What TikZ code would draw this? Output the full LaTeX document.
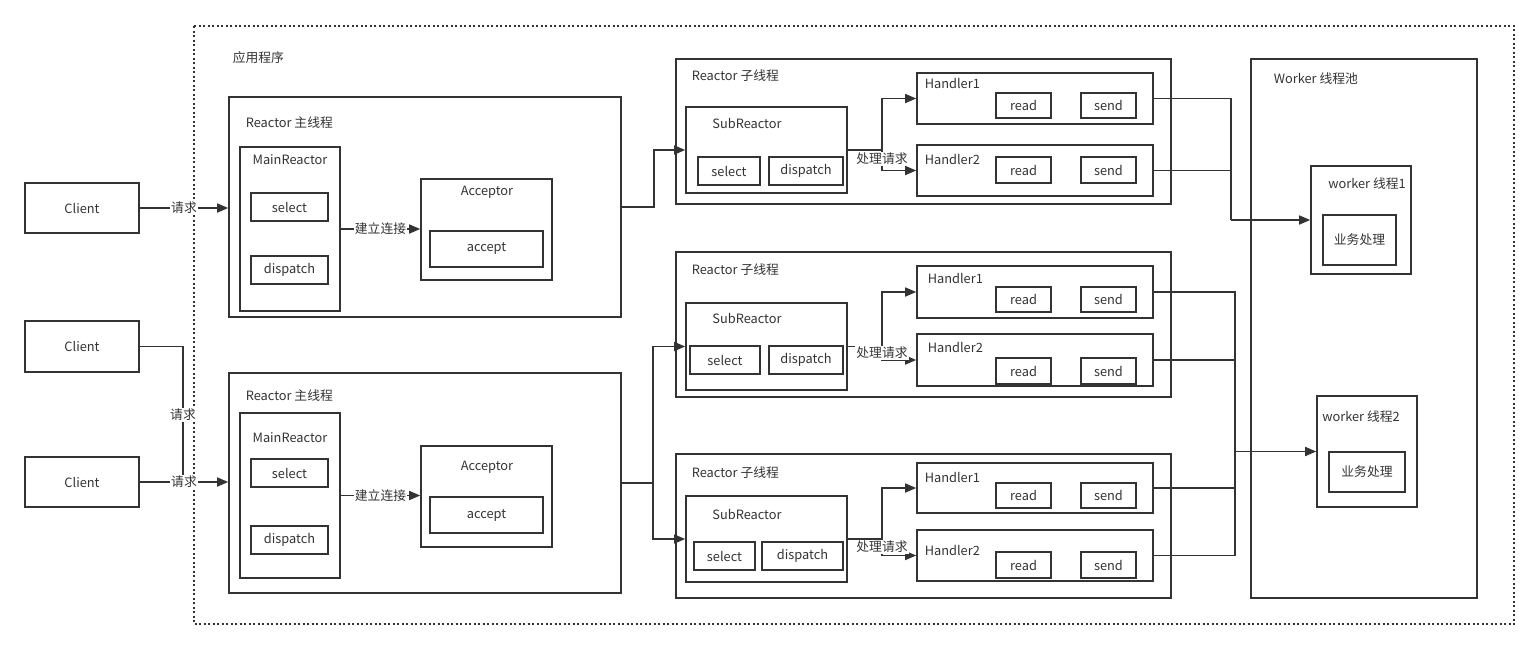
\documentclass[tikz,border=0pt]{standalone}
\usepackage{fontspec}
\setmainfont{Noto Sans CJK SC}
\usetikzlibrary{arrows.meta}
\definecolor{linegray}{HTML}{333333}

\begin{document}
\begin{tikzpicture}[x=1pt, y=-1pt, color=linegray, line width=1.6pt,
    every node/.style={font=\fontsize{12.8}{15}\selectfont},
    box/.style={draw, inner sep=0pt},
    lbl/.style={inner sep=1pt},
    tag/.style={inner sep=1pt, fill=white},
    arr/.style={-{Triangle[length=11pt,width=9pt]}}]
    \useasboundingbox (0,0) rectangle (1539,649);
    \draw[line width=1.7pt, dash pattern=on 2pt off 2.5pt] (194,26) rectangle (1514,624);
    \node[lbl, anchor=west] (app) at (231,58) {应用程序};

    \node[box, minimum width=114, minimum height=50] (client1) at (82,208) {Client};
    \node[box, minimum width=114, minimum height=51] (client2) at (82,346.5) {Client};
    \node[box, minimum width=114, minimum height=50] (client3) at (82,482) {Client};

    \node[box, minimum width=392, minimum height=220] (main1) at (425,207) {};
    \node[lbl, anchor=west] (main1lbl) at (244,123) {Reactor 主线程};
    \node[box, minimum width=100, minimum height=164] (mr1) at (290,229) {};
    \node[lbl] (mr1lbl) at (290,160) {MainReactor};
    \node[box, minimum width=77, minimum height=28] (sel1) at (289.5,207) {select};
    \node[box, minimum width=77, minimum height=28] (dis1) at (289.5,270) {dispatch};
    \node[box, minimum width=131, minimum height=101] (acc1) at (486.5,229.5) {};
    \node[lbl] (acc1lbl) at (487,192) {Acceptor};
    \node[box, minimum width=113, minimum height=36] (accept1) at (486.5,249) {accept};

    \node[box, minimum width=392, minimum height=220] (main2) at (425,483) {};
    \node[lbl, anchor=west] (main2lbl) at (244,396) {Reactor 主线程};
    \node[box, minimum width=100, minimum height=165] (mr2) at (290,495.5) {};
    \node[lbl] (mr2lbl) at (290,438) {MainReactor};
    \node[box, minimum width=77, minimum height=28] (sel2) at (289.5,473) {select};
    \node[box, minimum width=77, minimum height=28] (dis2) at (289.5,540) {dispatch};
    \node[box, minimum width=131, minimum height=101] (acc2) at (486.5,496.5) {};
    \node[lbl] (acc2lbl) at (487,467) {Acceptor};
    \node[box, minimum width=113, minimum height=36] (accept2) at (486.5,515) {accept};

    \node[box, minimum width=495, minimum height=145] (sub1) at (923.5,131.5) {};
    \node[lbl, anchor=west] (sub1lbl) at (690,76) {Reactor 子线程};
    \node[box, minimum width=161, minimum height=86] (sr1) at (766.5,150) {};
    \node[lbl] (sr1lbl) at (747,123) {SubReactor};
    \node[box, minimum width=62, minimum height=28] (ssel1) at (729,171) {select};
    \node[box, minimum width=74, minimum height=28] (sdis1) at (806,171) {dispatch};
    \node[box, minimum width=236, minimum height=51] (h11) at (1035,98.5) {};
    \node[lbl, anchor=west] (h11lbl) at (923,83) {Handler1};
    \node[box, minimum width=55, minimum height=25] (r11) at (1023.5,105.5) {read};
    \node[box, minimum width=55, minimum height=25] (s11) at (1108.5,105.5) {send};
    \node[box, minimum width=236, minimum height=51] (h12) at (1035,170.5) {};
    \node[lbl, anchor=west] (h12lbl) at (923,159) {Handler2};
    \node[box, minimum width=55, minimum height=26] (r12) at (1023.5,170) {read};
    \node[box, minimum width=55, minimum height=26] (s12) at (1108.5,170) {send};

    \node[box, minimum width=495, minimum height=145] (sub2) at (923.5,324.5) {};
    \node[lbl, anchor=west] (sub2lbl) at (690,270) {Reactor 子线程};
    \node[box, minimum width=161, minimum height=87] (sr2) at (766.5,346.5) {};
    \node[lbl] (sr2lbl) at (747,318) {SubReactor};
    \node[box, minimum width=70, minimum height=28] (ssel2) at (725,360) {select};
    \node[box, minimum width=74, minimum height=28] (sdis2) at (806,360) {dispatch};
    \node[box, minimum width=236, minimum height=52] (h21) at (1035,292) {};
    \node[lbl, anchor=west] (h21lbl) at (926,278) {Handler1};
    \node[box, minimum width=55, minimum height=25] (r21) at (1023.5,299.5) {read};
    \node[box, minimum width=55, minimum height=25] (s21) at (1108.5,299.5) {send};
    \node[box, minimum width=236, minimum height=52] (h22) at (1035,360) {};
    \node[lbl, anchor=west] (h22lbl) at (926,347) {Handler2};
    \node[box, minimum width=55, minimum height=26] (r22) at (1023.5,371) {read};
    \node[box, minimum width=55, minimum height=26] (s22) at (1108.5,371) {send};

    \node[box, minimum width=495, minimum height=144] (sub3) at (923.5,526) {};
    \node[lbl, anchor=west] (sub3lbl) at (690,473) {Reactor 子线程};
    \node[box, minimum width=161, minimum height=86] (sr3) at (766.5,539) {};
    \node[lbl] (sr3lbl) at (747,514) {SubReactor};
    \node[box, minimum width=61, minimum height=28] (ssel3) at (724.5,556) {select};
    \node[box, minimum width=81, minimum height=28] (sdis3) at (802.5,556) {dispatch};
    \node[box, minimum width=236, minimum height=50] (h31) at (1035,488) {};
    \node[lbl, anchor=west] (h31lbl) at (923,477) {Handler1};
    \node[box, minimum width=55, minimum height=25] (r31) at (1023.5,495.5) {read};
    \node[box, minimum width=55, minimum height=25] (s31) at (1108.5,495.5) {send};
    \node[box, minimum width=236, minimum height=51] (h32) at (1035,555.5) {};
    \node[lbl, anchor=west] (h32lbl) at (923,550) {Handler2};
    \node[box, minimum width=55, minimum height=26] (r32) at (1023.5,565) {read};
    \node[box, minimum width=55, minimum height=26] (s32) at (1108.5,565) {send};

    \node[box, minimum width=226, minimum height=539] (pool) at (1364,328.5) {};
    \node[lbl, anchor=west] (poollbl) at (1272,79) {Worker 线程池};
    \node[box, minimum width=100, minimum height=108] (w1) at (1361,220) {};
    \node[lbl] (w1lbl) at (1367,184) {worker 线程1};
    \node[box, minimum width=73, minimum height=50] (biz1) at (1359.5,240) {业务处理};
    \node[box, minimum width=100, minimum height=111] (w2) at (1367,451.5) {};
    \node[lbl] (w2lbl) at (1361,417) {worker 线程2};
    \node[box, minimum width=76, minimum height=40] (biz2) at (1367,472) {业务处理};

    \coordinate (c2) at (183,483);
    \coordinate (m2) at (653,483);
    \coordinate (d1) at (882,150);
    \coordinate (d2) at (882,346.5);
    \coordinate (d3) at (882,539);
    \coordinate (j1) at (1231,220);
    \coordinate (j2) at (1235,451.5);

    \draw[arr] (client1.east) -- node[tag] {请求} (client1.east -| main1.west);
    \draw (client2.east) -| node[tag, pos=0.75] {请求} (c2);
    \draw[arr] (client3.east) -- node[tag] {请求} (client3.east -| main2.west);
    \draw[arr] (mr1.east) -- node[tag] {建立连接} (mr1.east -| acc1.west);
    \draw[arr] (mr2.east) -- node[tag] {建立连接} (mr2.east -| acc2.west);

    \draw[arr] (main1.east) -- ++(32,0) |- (sr1.west);
    \draw (main2.east) -- (m2);
    \draw[arr] (m2) |- (sr2.west);
    \draw[arr] (m2) |- (sr3.west);

    \draw (sr1.east) -- (d1);
    \draw[arr] (d1) |- (h11.west);
    \draw[arr] (d1) |- (h12.west);
    \node[tag] (t1) at (882,159) {处理请求};
    \draw (sr2.east) -- (d2);
    \draw[arr] (d2) |- (h21.west);
    \draw[arr] (d2) |- (h22.west);
    \node[tag] (t2) at (882,353) {处理请求};
    \draw (sr3.east) -- (d3);
    \draw[arr] (d3) |- (h31.west);
    \draw[arr] (d3) |- (h32.west);
    \node[tag] (t3) at (882,547) {处理请求};

    \draw (h11.east) -| (j1);
    \draw (h12.east) -| (j1);
    \draw[arr] (j1) -- (w1.west);
    \draw (h21.east) -| (j2);
    \draw (h22.east) -| (j2);
    \draw (h31.east) -| (j2);
    \draw (h32.east) -| (j2);
    \draw[arr] (j2) -- (w2.west);
\end{tikzpicture}
\end{document}
